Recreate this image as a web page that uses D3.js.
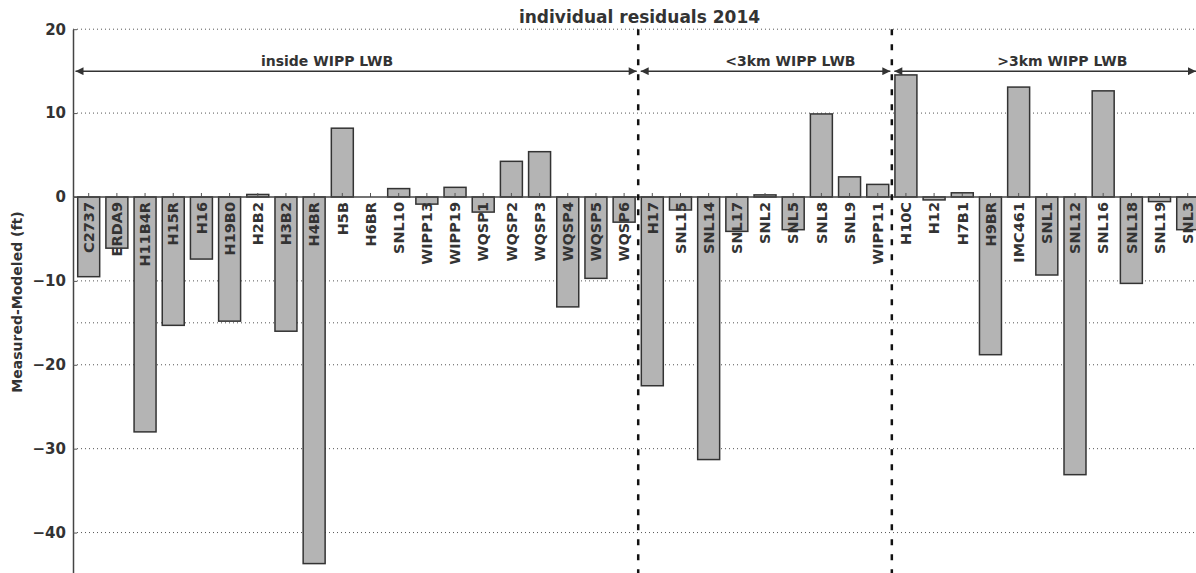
<!DOCTYPE html>
<html>
<head>
<meta charset="utf-8">
<script src="https://cdn.jsdelivr.net/npm/d3@7"></script>
<style>
  body { margin: 0; background: #fff; }
  text { font-family: "DejaVu Sans", sans-serif; font-weight: bold; fill: #333; }
</style>
</head>
<body>
<div id="chart"></div>
<script>
// well names, in plotting order
var wells = ["C2737", "ERDA9", "H11B4R", "H15R", "H16", "H19B0", "H2B2", "H3B2", "H4BR", "H5B",
    "H6BR", "SNL10", "WIPP13", "WIPP19", "WQSP1", "WQSP2", "WQSP3", "WQSP4", "WQSP5", "WQSP6",
    "H17", "SNL15", "SNL14", "SNL17", "SNL2", "SNL5", "SNL8", "SNL9", "WIPP11",
    "H10C", "H12", "H7B1", "H9BR", "IMC461", "SNL1", "SNL12", "SNL16", "SNL18", "SNL19", "SNL3"];

// measured - modeled (ft)
var residuals = [-9.5, -6.1, -28.0, -15.3, -7.4, -14.8, 0.3, -16.0, -43.7, 8.2,
    0, 1.0, -0.85, 1.15, -1.8, 4.25, 5.4, -13.1, -9.7, -3.0,
    -22.5, -1.55, -31.3, -4.1, 0.25, -3.9, 9.9, 2.4, 1.5,
    14.55, -0.35, 0.5, -18.8, 13.1, -9.3, -33.1, 12.65, -10.3, -0.55, -3.9];

// region annotations: first / last well of each zone and where the label sits (index units)
var regionNames = ["inside WIPP LWB", "<3km WIPP LWB", ">3km WIPP LWB"];
var regionFirst = ["C2737", "H17", "H10C"];
var regionLast = ["WQSP6", "WIPP11", "SNL3"];
var regionLabelAt = [8.46, 24.9, 34.55];
var regionArrowY = 15;

var yTicks = [20, 10, 0, -10, -20, -30, -40];
var gridLines = [20, 10, -10, -15, -20, -30, -40];

var width = 1196, height = 573;
var margin = {left: 73, right: 1206, top: 29.2, bottom: 574.5};

var svg = d3.select("#chart").append("svg")
    .attr("width", width)
    .attr("height", height);

var step = 28.18, x0 = 88.7;
var x = d3.scaleBand()
    .domain(wells)
    .range([x0 - step / 2, x0 + (wells.length - 0.5) * step])
    .paddingInner(0.22)
    .paddingOuter(0.11);

var y = d3.scaleLinear()
    .domain([-45, 20])
    .range([margin.bottom, margin.top]);

//grid
svg.append("g").selectAll("line")
    .data(gridLines)
    .enter().append("line")
    .attr("x1", margin.left)
    .attr("x2", margin.right)
    .attr("y1", function(d){ return y(d); })
    .attr("y2", function(d){ return y(d); })
    .attr("stroke", "#555")
    .attr("stroke-width", 1)
    .attr("stroke-dasharray", "1,3");

//bars
svg.append("g").selectAll("rect")
    .data(wells)
    .enter().append("rect")
    .attr("x", function(d){ return x(d); })
    .attr("width", x.bandwidth())
    .attr("y", function(d, i){ return y(Math.max(0, residuals[i])); })
    .attr("height", function(d, i){ return Math.abs(y(residuals[i]) - y(0)); })
    .attr("fill", "#b4b4b4")
    .attr("stroke", "#333")
    .attr("stroke-width", 1.5);

//x axis at zero, ticks pointing up, labels rotated below the line
var xAxis = d3.axisBottom(x).tickSizeInner(-4).tickSizeOuter(0).tickPadding(0);
var gx = svg.append("g")
    .attr("transform", "translate(0," + y(0) + ")")
    .call(xAxis);
gx.select(".domain").remove();
gx.selectAll(".tick line").attr("stroke", "#555");
gx.selectAll(".tick text")
    .attr("y", 0)
    .attr("x", -5)
    .attr("dy", "0.36em")
    .attr("transform", "rotate(-90)")
    .style("text-anchor", "end")
    .style("font-size", "14.5px")
    .style("font-family", "DejaVu Sans")
    .style("font-weight", "bold")
    .attr("fill", "#2a2a2a");

svg.append("line")
    .attr("x1", margin.left)
    .attr("x2", margin.right)
    .attr("y1", y(0))
    .attr("y2", y(0))
    .attr("stroke", "#444")
    .attr("stroke-width", 1.5);

//y axis
var yAxis = d3.axisLeft(y).tickValues(yTicks).tickSizeInner(-4).tickSizeOuter(0).tickPadding(7);
var gy = svg.append("g")
    .attr("transform", "translate(" + margin.left + ",0)")
    .call(yAxis);
gy.select(".domain").attr("stroke", "#444").attr("stroke-width", 1.5);
gy.selectAll(".tick line").attr("stroke", "#555");
gy.selectAll(".tick text")
    .style("font-size", "15px")
    .style("font-family", "DejaVu Sans")
    .style("font-weight", "bold")
    .attr("fill", "#333");

svg.append("text")
    .attr("transform", "translate(22," + 302 + ") rotate(-90)")
    .style("text-anchor", "middle")
    .style("font-size", "14px")
    .text("Measured-Modeled (ft)");

//dashed separators between zones
var separators = regionFirst.slice(1).map(function(d){ return x(d) - x.step() * x.paddingInner() / 2; });
svg.append("g").selectAll("line")
    .data(separators)
    .enter().append("line")
    .attr("x1", function(d){ return d; })
    .attr("x2", function(d){ return d; })
    .attr("y1", margin.top)
    .attr("y2", height)
    .attr("stroke", "#111")
    .attr("stroke-width", 2.5)
    .attr("stroke-dasharray", "6,9");

//arrows
var defs = svg.append("defs");
defs.append("marker")
    .attr("id", "head")
    .attr("viewBox", "0 0 10 10")
    .attr("refX", 10).attr("refY", 5)
    .attr("markerWidth", 9).attr("markerHeight", 8)
    .attr("markerUnits", "userSpaceOnUse")
    .attr("orient", "auto-start-reverse")
    .append("path")
    .attr("d", "M0,0 L10,5 L0,10 Z")
    .attr("fill", "#333");

var bounds = [margin.left].concat(separators).concat([margin.right]);
regionNames.forEach(function(name, i){
    var left = bounds[i] + 2.5;
    var right = (i == regionNames.length - 1) ? 1196 : bounds[i + 1] - 1.5;
    svg.append("line")
        .attr("x1", left)
        .attr("x2", right)
        .attr("y1", y(regionArrowY))
        .attr("y2", y(regionArrowY))
        .attr("stroke", "#333")
        .attr("stroke-width", 1.5)
        .attr("marker-start", "url(#head)")
        .attr("marker-end", "url(#head)");
    svg.append("text")
        .attr("x", x0 + regionLabelAt[i] * step)
        .attr("y", y(regionArrowY) - 5)
        .style("text-anchor", "middle")
        .style("font-size", "14px")
        .text(name);
});

//title
svg.append("text")
    .attr("x", (margin.left + margin.right) / 2)
    .attr("y", 23)
    .style("text-anchor", "middle")
    .style("font-size", "17px")
    .text("individual residuals 2014");
</script>
</body>
</html>
